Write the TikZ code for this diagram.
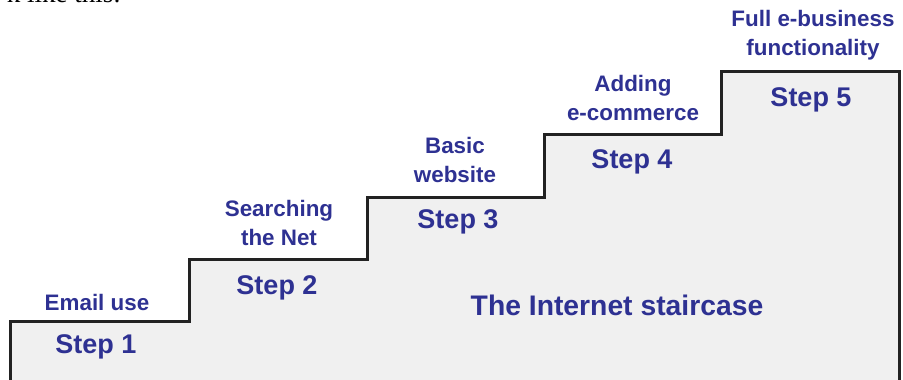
\documentclass[tikz,border=0pt]{standalone}
\usepackage{fontspec}
\setmainfont{Liberation Sans}
\newfontfamily\serifpage{Liberation Serif}
\definecolor{stepblue}{RGB}{46,49,146}
\definecolor{stairfill}{RGB}{240,240,240}
\definecolor{stairline}{RGB}{34,34,34}
\tikzset{
  x=1pt, y=1pt,
  steplabel/.style={font=\fontsize{27}{30}\selectfont\bfseries, text=stepblue, inner sep=0pt},
  stagelabel/.style={font=\fontsize{22.4}{29}\selectfont\bfseries, text=stepblue, align=center, inner sep=0pt},
  stairs/.style={fill=stairfill, draw=stairline, line width=3pt, line join=miter}
}
\begin{document}
\begin{tikzpicture}
\useasboundingbox (0,0) rectangle (903,380);
% staircase
\path[stairs] (10,-10) -- (10,58) -- (189,58) -- (189,120) -- (367,120) -- (367,182)
  -- (544,182) -- (544,245) -- (721,245) -- (721,308) -- (899,308) -- (899,-10);
% cropped page text
\node[font=\serifpage\fontsize{27}{30}\selectfont, anchor=base east, inner sep=0pt] (pagetext) at (121,377.5) {k like this:};
% stage labels
\node[stagelabel] (l1) at (97,78) {Email use};
\node[stagelabel] (l2) at (279,157) {Searching\\the Net};
\node[stagelabel] (l3) at (455,220) {Basic\\website};
\node[stagelabel] (l4) at (633,282) {Adding\\e-commerce};
\node[stagelabel] (l5) at (813,345) {Full e-business\\functionality};
% steps
\node[steplabel] (s1) at (96,33) {Step 1};
\node[steplabel] (s2) at (277,92) {Step 2};
\node[steplabel] (s3) at (458,158) {Step 3};
\node[steplabel] (s4) at (632,218) {Step 4};
\node[steplabel] (s5) at (811,280) {Step 5};
\node[steplabel, font=\fontsize{28.3}{30}\selectfont\bfseries] (title) at (617,75) {The Internet staircase};
\end{tikzpicture}
\end{document}
